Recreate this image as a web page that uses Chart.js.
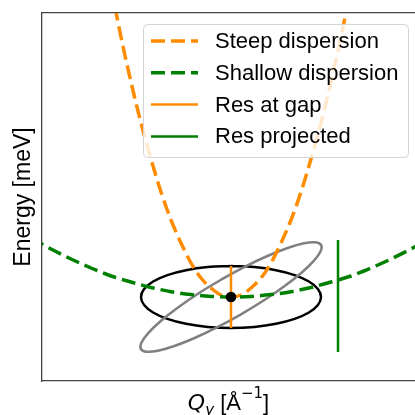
<!DOCTYPE html>
<html>
<head>
<meta charset="utf-8">
<script src="https://cdn.jsdelivr.net/npm/chart.js@4.4.1/dist/chart.umd.min.js"></script>
<style>
  html, body { margin: 0; padding: 0; background: #fff; overflow: hidden; }
</style>
</head>
<body>
<canvas id="c" width="415" height="415"></canvas>
<script>
// ---- data (x: Q_y, y: energy above the gap, arbitrary units) ----
const steepQ = [-1.2, -1.1, -1.0, -0.9, -0.8, -0.7, -0.6, -0.5, -0.4, -0.3, -0.2, -0.1, 0,
                0.1, 0.2, 0.3, 0.4, 0.5, 0.6, 0.7, 0.8, 0.9, 1.0, 1.1, 1.2];
const steepE = [3.10, 2.60, 2.15, 1.74, 1.38, 1.05, 0.77, 0.54, 0.34, 0.19, 0.09, 0.02, 0,
                0.02, 0.09, 0.19, 0.34, 0.54, 0.77, 1.05, 1.38, 1.74, 2.15, 2.60, 3.10];

const shallowQ = [-2.0, -1.8, -1.6, -1.4, -1.2, -1.0, -0.8, -0.6, -0.4, -0.2, 0,
                  0.2, 0.4, 0.6, 0.8, 1.0, 1.2, 1.4, 1.6, 1.8, 2.0];
const shallowE = [0.59, 0.48, 0.38, 0.29, 0.21, 0.15, 0.095, 0.053, 0.024, 0.006, 0,
                  0.006, 0.024, 0.053, 0.095, 0.15, 0.21, 0.29, 0.38, 0.48, 0.59];

// resolution ellipse at the gap (black, axis aligned)
const resGapX = [0, -0.233, -0.45, -0.636, -0.779, -0.869, -0.90, -0.869, -0.779, -0.636, -0.45, -0.233,
                 0, 0.233, 0.45, 0.636, 0.779, 0.869, 0.90, 0.869, 0.779, 0.636, 0.45, 0.233, 0];
const resGapY = [0.31, 0.299, 0.268, 0.219, 0.155, 0.08, 0, -0.08, -0.155, -0.219, -0.268, -0.299,
                 -0.31, -0.299, -0.268, -0.219, -0.155, -0.08, 0, 0.08, 0.155, 0.219, 0.268, 0.299, 0.31];

// tilted resolution ellipse (gray)
const resTiltX = [-0.100, -0.330, -0.537, -0.708, -0.830, -0.896, -0.901, -0.844, -0.730, -0.566, -0.364, -0.136,
                  0.100, 0.330, 0.537, 0.708, 0.830, 0.896, 0.901, 0.844, 0.730, 0.566, 0.364, 0.136, -0.100];
const resTiltY = [0.173, 0.033, -0.110, -0.245, -0.364, -0.458, -0.520, -0.547, -0.537, -0.490, -0.410, -0.302,
                  -0.173, -0.033, 0.110, 0.245, 0.364, 0.458, 0.520, 0.547, 0.537, 0.490, 0.410, 0.302, 0.173];

// vertical resolution bars
const gapBarQ = 0.0,  gapBarE = [-0.31, 0.31];
const projBarQ = 1.07, projBarE = [-0.55, 0.57];

// the measured point
const pointQ = 0, pointE = 0;

const xRange = [-1.89, 1.84];
const yRange = [-0.84, 2.84];

const legendLabels = ['Steep dispersion', 'Shallow dispersion', 'Res at gap', 'Res projected'];

// ---- helpers ----
const zip = (xs, ys) => xs.map((x, i) => ({ x, y: ys[i] }));
const ORANGE = '#ff8c00', GREEN = '#008000', GRAY = '#808080';
const SANS = '"Liberation Sans", Arial, sans-serif';
const MATH = '"DejaVu Sans", sans-serif';

// ---- legend drawn inside the axes (matplotlib style) ----
const legendBox = {
  id: 'legendBox',
  afterDraw(chart) {
    const { ctx, chartArea: a } = chart;
    const items = chart.data.datasets.filter(d => d.inLegend);
    const w = 265, h = 133;
    const left = a.right - 7 - w, top = a.top + 11;
    ctx.save();
    ctx.beginPath();
    ctx.roundRect(left + 0.5, top + 0.5, w, h, 4);
    ctx.fillStyle = 'rgba(255,255,255,0.8)';
    ctx.fill();
    ctx.strokeStyle = '#d4d4d4';
    ctx.lineWidth = 1;
    ctx.stroke();
    ctx.font = '22px ' + SANS;
    ctx.textBaseline = 'middle';
    ctx.fillStyle = '#000';
    items.forEach((d, i) => {
      const y = top + 17 + i * 31.8;
      ctx.beginPath();
      ctx.setLineDash(d.borderDash || []);
      ctx.strokeStyle = d.borderColor;
      ctx.lineWidth = d.borderWidth;
      ctx.moveTo(left + 8, y);
      ctx.lineTo(left + 55, y);
      ctx.stroke();
      ctx.setLineDash([]);
      ctx.fillText(d.label, left + 72, y + 1);
    });
    ctx.restore();
  }
};

// ---- axis titles (mixed math text) ----
const axisTitles = {
  id: 'axisTitles',
  afterDraw(chart) {
    const { ctx, chartArea: a } = chart;
    ctx.save();
    ctx.fillStyle = '#000';
    // y title
    ctx.translate(29.5, (a.top + a.bottom) / 2);
    ctx.rotate(-Math.PI / 2);
    ctx.font = '23px ' + SANS;
    ctx.textAlign = 'center';
    ctx.textBaseline = 'alphabetic';
    ctx.fillText('Energy [meV]', 0, 0);
    ctx.setTransform(1, 0, 0, 1, 0, 0);

    // x title: Q_y [Å^-1]
    const parts = [
      { t: 'Q', f: 'italic 22px ' + MATH, dy: 0 },
      { t: 'y', f: 'italic 15px ' + MATH, dy: 4.5 },
      { t: ' [Å', f: '22px ' + SANS, dy: 0 },
      { t: '\u22121', f: '15px ' + MATH, dy: -12 },
      { t: ']', f: '22px ' + SANS, dy: 0 }
    ];
    let total = 0;
    parts.forEach(p => { ctx.font = p.f; p.w = ctx.measureText(p.t).width; total += p.w; });
    let x = (a.left + a.right) / 2 - total / 2;
    const base = 410;
    ctx.textAlign = 'left';
    parts.forEach(p => { ctx.font = p.f; ctx.fillText(p.t, x, base + p.dy); x += p.w; });
    ctx.restore();
  }
};

const lineDefaults = { pointRadius: 0, pointHoverRadius: 0, fill: false };
const axisBorder = { display: true, color: '#444', width: 1.3 };
const hidden = { display: false };

new Chart(document.getElementById('c'), {
  type: 'line',
  data: {
    datasets: [
      Object.assign({}, lineDefaults, {
        label: legendLabels[0], inLegend: true, order: 3,
        data: zip(steepQ, steepE), borderColor: ORANGE, borderWidth: 3.5,
        borderDash: [14, 6], cubicInterpolationMode: 'monotone'
      }),
      Object.assign({}, lineDefaults, {
        label: legendLabels[1], inLegend: true, order: 2,
        data: zip(shallowQ, shallowE), borderColor: GREEN, borderWidth: 3.5,
        borderDash: [14, 6], cubicInterpolationMode: 'monotone'
      }),
      Object.assign({}, lineDefaults, {
        label: legendLabels[2], inLegend: true, order: 1,
        data: zip([gapBarQ, gapBarQ], gapBarE), borderColor: ORANGE, borderWidth: 2.5
      }),
      Object.assign({}, lineDefaults, {
        label: legendLabels[3], inLegend: true, order: 1,
        data: zip([projBarQ, projBarQ], projBarE), borderColor: GREEN, borderWidth: 2.5
      }),
      Object.assign({}, lineDefaults, {
        label: 'res tilted', order: 4,
        data: zip(resTiltX, resTiltY), borderColor: GRAY, borderWidth: 2.5, tension: 0.4
      }),
      Object.assign({}, lineDefaults, {
        label: 'res gap', order: 4,
        data: zip(resGapX, resGapY), borderColor: '#000', borderWidth: 2.5, tension: 0.4
      }),
      {
        label: 'point', order: 0, showLine: false,
        data: [{ x: pointQ, y: pointE }],
        pointRadius: 5.3, pointBackgroundColor: '#000', pointBorderWidth: 0
      }
    ]
  },
  options: {
    responsive: false,
    animation: false,
    events: [],
    layout: { autoPadding: false, padding: { left: 42, top: 13, right: 0, bottom: 34 } },
    plugins: { legend: hidden, tooltip: { enabled: false } },
    scales: {
      x: { type: 'linear', min: xRange[0], max: xRange[1], ticks: hidden,
           grid: { display: false, drawTicks: false }, border: axisBorder },
      xTop: { type: 'linear', position: 'top', min: 0, max: 1, ticks: hidden,
              grid: { display: false, drawTicks: false }, border: axisBorder },
      y: { type: 'linear', min: yRange[0], max: yRange[1], ticks: hidden,
           grid: { display: false, drawTicks: false }, border: axisBorder }
    }
  },
  plugins: [legendBox, axisTitles]
});
</script>
</body>
</html>
